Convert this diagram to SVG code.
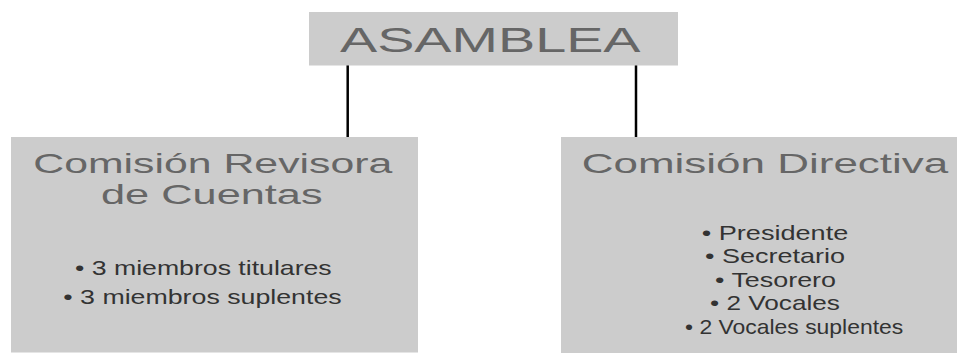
<svg xmlns="http://www.w3.org/2000/svg" width="957" height="353" viewBox="0 0 957 353">
<style>
.box{fill:#cccccc;}
.title{font-family:"Liberation Sans",Arial,sans-serif;fill:#666666;font-size:27.5px;}
.big{font-family:"Liberation Sans",Arial,sans-serif;fill:#666666;font-size:36px;}
.item{font-family:"Liberation Sans",Arial,sans-serif;fill:#333333;font-size:20px;}
.conn{stroke:#000000;stroke-width:2.5;fill:none;}
</style>
<rect width="957" height="353" fill="#ffffff"/>
<g id="connectors">
<line class="conn" x1="347.7" y1="65" x2="347.7" y2="137"/>
<line class="conn" x1="636" y1="65" x2="636" y2="137"/>
</g>
<g id="asamblea">
<rect class="box" x="309" y="12" width="369" height="53.5"/>
<text class="big" transform="translate(340,51.5) scale(1.55,1)" textLength="193.9" lengthAdjust="spacingAndGlyphs">ASAMBLEA</text>
</g>
<g id="comision-revisora">
<rect class="box" x="11" y="137" width="407" height="215.5"/>
<text class="title" transform="translate(33.3,172.7) scale(1.55,1)" textLength="231.6" lengthAdjust="spacingAndGlyphs">Comisión Revisora</text>
<text class="title" transform="translate(101,203.5) scale(1.55,1)" textLength="143" lengthAdjust="spacingAndGlyphs">de Cuentas</text>
<text class="item" transform="translate(75,275) scale(1.33,1)" textLength="193" lengthAdjust="spacingAndGlyphs">• 3 miembros titulares</text>
<text class="item" transform="translate(63.3,304) scale(1.33,1)" textLength="209.3" lengthAdjust="spacingAndGlyphs">• 3 miembros suplentes</text>
</g>
<g id="comision-directiva">
<rect class="box" x="561" y="137" width="396" height="216"/>
<text class="title" transform="translate(581.7,172.7) scale(1.55,1)" textLength="236.5" lengthAdjust="spacingAndGlyphs">Comisión Directiva</text>
<text class="item" transform="translate(701.7,240) scale(1.33,1)" textLength="110.2" lengthAdjust="spacingAndGlyphs">• Presidente</text>
<text class="item" transform="translate(705,263) scale(1.33,1)" textLength="105.3" lengthAdjust="spacingAndGlyphs">• Secretario</text>
<text class="item" transform="translate(715,287) scale(1.33,1)" textLength="91" lengthAdjust="spacingAndGlyphs">• Tesorero</text>
<text class="item" transform="translate(710,310) scale(1.33,1)" textLength="97.7" lengthAdjust="spacingAndGlyphs">• 2 Vocales</text>
<text class="item" transform="translate(685,334) scale(1.33,1)" textLength="164.1" lengthAdjust="spacingAndGlyphs">• 2 Vocales suplentes</text>
</g>
</svg>
